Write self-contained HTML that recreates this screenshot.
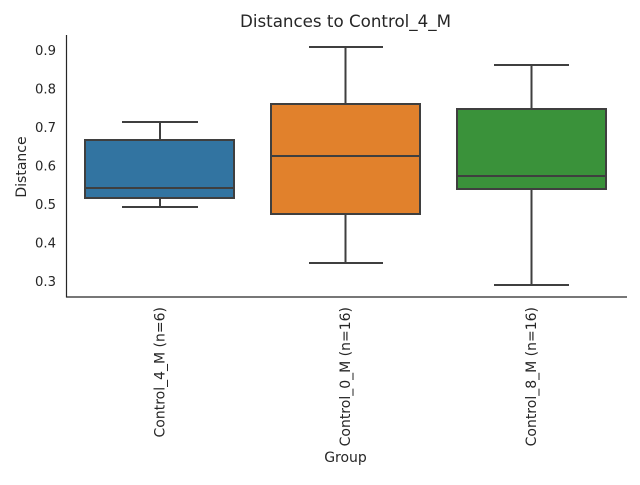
<!DOCTYPE html>
<html><head><style>body{margin:0;background:#fff}</style></head><body>
<svg width="640" height="480" xmlns="http://www.w3.org/2000/svg" font-family="DejaVu Sans, Liberation Sans, sans-serif" fill="#262626">
<rect width="640" height="480" fill="#fff"/>
<text x="345.5" y="27" font-size="16.7" text-anchor="middle">Distances to Control_4_M</text>
<g font-size="13.2" text-anchor="end">
<text x="56" y="55">0.9</text><text x="56" y="93.5">0.8</text><text x="56" y="132">0.7</text>
<text x="56" y="170.5">0.6</text><text x="56" y="209">0.5</text><text x="56" y="247.5">0.4</text><text x="56" y="286">0.3</text>
</g>
<text transform="translate(26,167) rotate(-90)" font-size="14" text-anchor="middle">Distance</text>
<text x="345.5" y="462" font-size="14" text-anchor="middle">Group</text>
<g stroke="#3f3f3f" stroke-width="2" fill="none">
<line x1="160" y1="122" x2="160" y2="140"/><line x1="160" y1="198" x2="160" y2="207"/>
<line x1="122" y1="122" x2="198" y2="122"/><line x1="122" y1="207" x2="198" y2="207"/>
<rect x="85" y="140" width="149" height="58" fill="#3274a1"/>
<line x1="85" y1="188" x2="234" y2="188"/>
<line x1="345.5" y1="47" x2="345.5" y2="104"/><line x1="345.5" y1="214" x2="345.5" y2="263"/>
<line x1="309" y1="47" x2="383" y2="47"/><line x1="309" y1="263" x2="383" y2="263"/>
<rect x="271" y="104" width="149" height="110" fill="#e1812c"/>
<line x1="271" y1="156" x2="420" y2="156"/>
<line x1="531.5" y1="65" x2="531.5" y2="109"/><line x1="531.5" y1="189" x2="531.5" y2="285"/>
<line x1="494" y1="65" x2="569" y2="65"/><line x1="494" y1="285" x2="569" y2="285"/>
<rect x="457" y="109" width="149" height="80" fill="#3a923a"/>
<line x1="457" y1="176" x2="606" y2="176"/>
</g>
<g stroke="#262626" stroke-width="1.2">
<line x1="66.5" y1="35" x2="66.5" y2="297.5"/><line x1="66" y1="297" x2="627" y2="297"/>
</g>
<g font-size="14" text-anchor="end">
<text transform="translate(164.5,307) rotate(-90)">Control_4_M (n=6)</text>
<text transform="translate(350,307) rotate(-90)">Control_0_M (n=16)</text>
<text transform="translate(536,307) rotate(-90)">Control_8_M (n=16)</text>
</g>
</svg>
</body></html>
